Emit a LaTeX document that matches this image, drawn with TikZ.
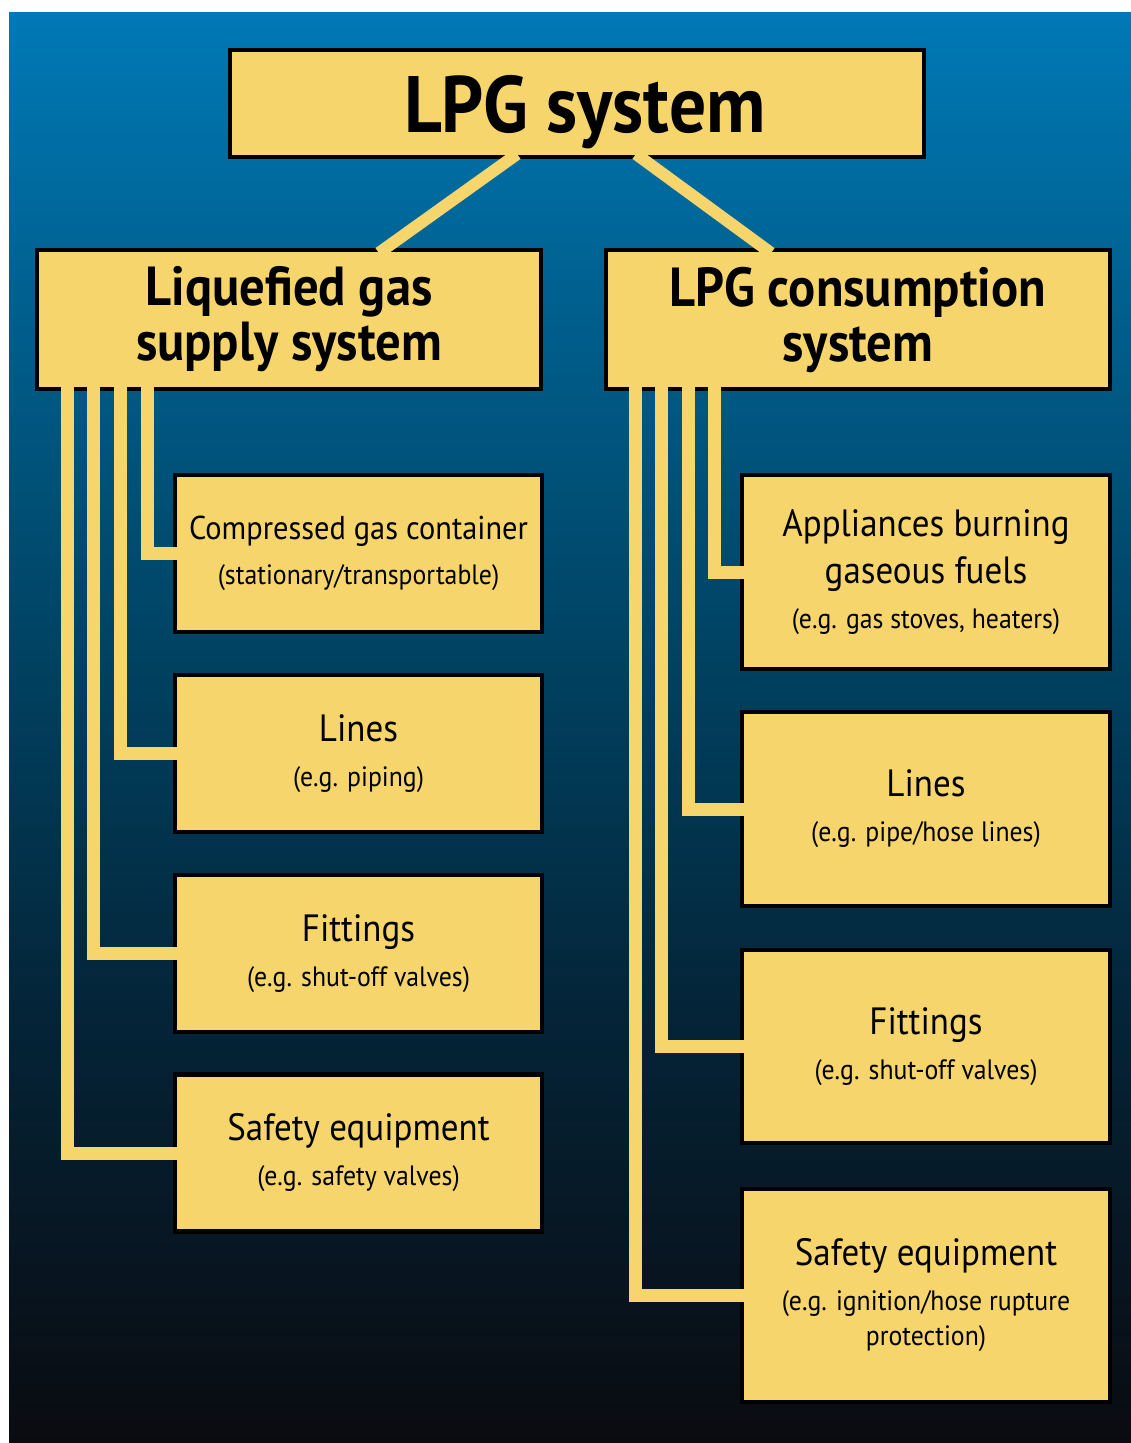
\documentclass[tikz,border=0pt]{standalone}
\usepackage{fontspec}
\newfontfamily\cond[FakeStretch=0.92]{PT Sans}
\usetikzlibrary{calc}
\definecolor{boxfill}{RGB}{246,214,108}
\definecolor{bgtop}{RGB}{0,121,182}
\definecolor{bgmida}{RGB}{0,96,143}
\definecolor{bgmid}{RGB}{0,66,98}
\definecolor{bgmidb}{RGB}{4,36,56}
\definecolor{bgbot}{RGB}{10,11,16}
\pgfdeclareverticalshading{bgshade}{100bp}{color(0bp)=(bgbot); color(25bp)=(bgbot); color(40bp)=(bgmidb); color(52.5bp)=(bgmid); color(65bp)=(bgmida); color(75bp)=(bgtop); color(100bp)=(bgtop)}
\newcommand{\mainline}[1]{{\fontsize{38}{35}\selectfont #1}}
\newcommand{\mainsmall}[1]{{\fontsize{33}{35}\selectfont #1}}
\begin{document}
\begin{tikzpicture}[x=1pt,y=-1pt,
  box/.style={draw=black, line width=4.5pt, fill=boxfill, inner sep=0pt, outer sep=0pt, align=center, text=black},
  lvltwo/.style={box, minimum width=504pt, minimum height=139pt, font=\cond\bfseries\fontsize{55}{55}\selectfont},
  leftkid/.style={box, minimum width=367pt, minimum height=157pt, font=\cond\fontsize{28}{35}\selectfont},
  rightkid/.style={box, minimum width=368pt, font=\cond\fontsize{28}{35}\selectfont},
  conn/.style={draw=boxfill, line width=13pt, line join=miter}]
\useasboundingbox (0,0) rectangle (1131,1443);
\shade[shading=bgshade] (9,12) rectangle (1131,1443);

% top
\node[box, minimum width=694pt, minimum height=107pt, text depth=0pt, font=\cond\bfseries\fontsize{80}{80}\selectfont] (top) at (577,103.5) {\hspace*{16pt}LPG system};
% level two
\node[lvltwo] (ls) at (289,319.5) {Liquefied gas\\supply system};
\node[lvltwo] (rs) at (858,319.5) {LPG consumption\\system};

% left children
\node[leftkid] (c1) at (358.5,553.5) {\mainsmall{Compressed gas container}\\[10pt](stationary/transportable)};
\node[leftkid] (c2) at (358.5,753.5) {\mainline{Lines}\\[10pt](e.g. piping)};
\node[leftkid] (c3) at (358.5,953.5) {\mainline{Fittings}\\[10pt](e.g. shut-off valves)};
\node[leftkid] (c4) at (358.5,1153) {\mainline{Safety equipment}\\[10pt](e.g. safety valves)};

% right children
\node[rightkid, minimum height=194pt] (r1) at (926,572) {\mainline{Appliances burning}\\[12pt]\mainline{gaseous fuels}\\[10pt](e.g. gas stoves, heaters)};
\node[rightkid, minimum height=194pt] (r2) at (926,809) {\mainline{Lines}\\[10pt](e.g. pipe/hose lines)};
\node[rightkid, minimum height=193pt] (r3) at (926,1046.5) {\mainline{Fittings}\\[10pt](e.g. shut-off valves)};
\node[rightkid, minimum height=213pt] (r4) at (926,1295.5) {\mainline{Safety equipment}\\[10pt](e.g. ignition/hose rupture\\protection)};

% diagonal connectors
\draw[conn, line width=12pt, shorten <=-5pt, shorten >=-5pt] ([xshift=-64pt]top.south) -- ([xshift=94pt]ls.north);
\draw[conn, line width=12pt, shorten <=-5pt, shorten >=-5pt] ([xshift=63pt]top.south) -- ([xshift=-91pt]rs.north);

% left elbows
\draw[conn, shorten <=-3pt, shorten >=-3pt] ([xshift=110pt]ls.south west) |- (c1.west);
\draw[conn, shorten <=-3pt, shorten >=-3pt] ([xshift=83pt]ls.south west) |- (c2.west);
\draw[conn, shorten <=-3pt, shorten >=-3pt] ([xshift=56pt]ls.south west) |- (c3.west);
\draw[conn, shorten <=-3pt, shorten >=-3pt] ([xshift=30pt]ls.south west) |- (c4.west);

% right elbows
\draw[conn, shorten <=-3pt, shorten >=-3pt] ([xshift=108pt]rs.south west) |- (r1.west);
\draw[conn, shorten <=-3pt, shorten >=-3pt] ([xshift=82pt]rs.south west) |- (r2.west);
\draw[conn, shorten <=-3pt, shorten >=-3pt] ([xshift=55pt]rs.south west) |- (r3.west);
\draw[conn, shorten <=-3pt, shorten >=-3pt] ([xshift=29pt]rs.south west) |- (r4.west);
\end{tikzpicture}
\end{document}
